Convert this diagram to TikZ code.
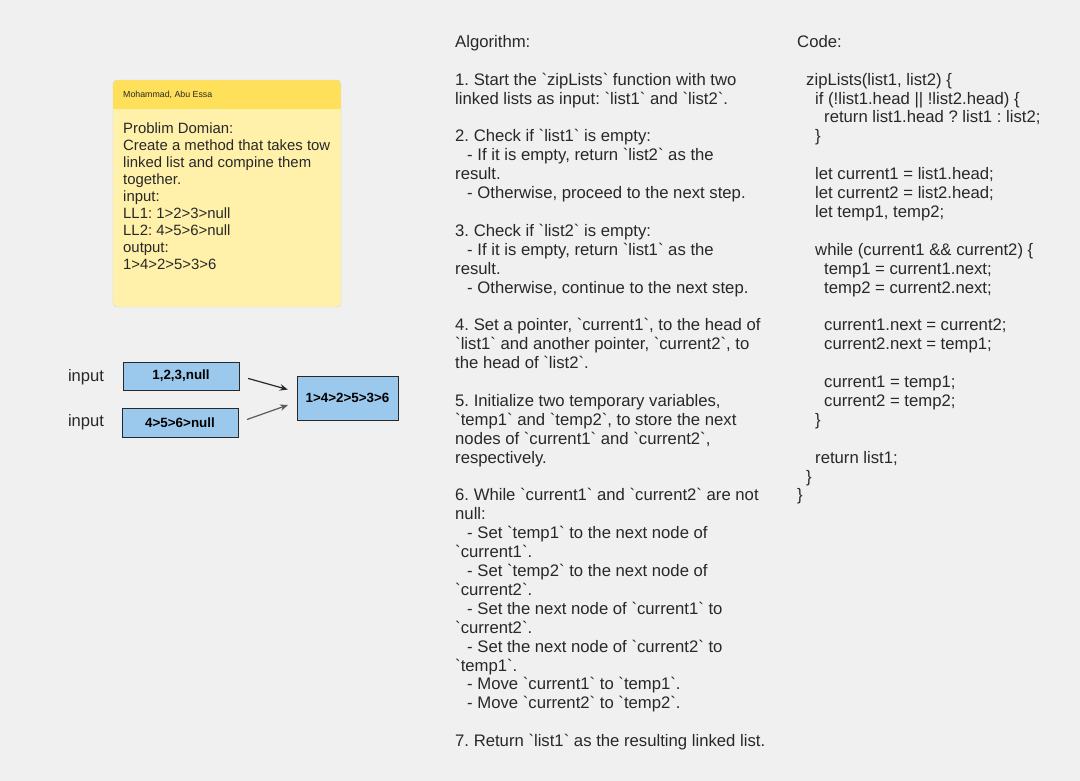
\documentclass[tikz,border=0pt]{standalone}
\usepackage{fontspec}
\setmainfont{Liberation Sans}
\usetikzlibrary{arrows.meta,positioning}

\definecolor{canvas}{RGB}{240,240,240}
\definecolor{noteHead}{RGB}{255,224,90}
\definecolor{noteBody}{RGB}{255,241,170}
\definecolor{noteLine}{RGB}{214,214,214}
\definecolor{boxBlue}{RGB}{155,201,238}
\definecolor{ink}{RGB}{40,40,40}
\newcommand{\bq}{\textasciigrave}
\frenchspacing

\tikzset{
  listbox/.style={draw=ink,fill=boxBlue,line width=1pt,inner sep=0pt,font=\fontsize{13.4}{15}\selectfont\bfseries},
  flow/.style={-{Stealth[length=8pt,width=6.5pt]},line width=1.2pt,shorten <=9pt,shorten >=9pt},
  colText/.style={anchor=north west,align=left,inner sep=0pt,text=ink,font=\fontsize{16.7}{18.9}\selectfont},
  label/.style={text=ink,font=\fontsize{16.6}{18}\selectfont},
}

\begin{document}
\begin{tikzpicture}[x=1pt,y=-1pt]
    \fill[canvas] (0,0) rectangle (1080,781);
    \useasboundingbox (0,0) rectangle (1080,781);

    % sticky note
    \begin{scope}
    \clip[rounded corners=4pt] (113,80) rectangle (341,307);
    \fill[noteBody] (113,80) rectangle (341,307);
    \fill[noteHead] (113,80) rectangle (341,109);
    \end{scope}
    \draw[noteLine,rounded corners=4pt] (113,80) rectangle (341,307);
    \node[anchor=west,inner sep=0pt,text=ink,font=\fontsize{8.8}{10}\selectfont] (author) at (123,95) {Mohammad, Abu Essa};
    \node[colText,font=\fontsize{14.9}{17}\selectfont] (problem) at (123,122.5) {Problim Domian:\\
      Create a method that takes tow\\
      linked list and compine them\\
      together.\\
      input:\\
      LL1: 1>2>3>null\\
      LL2: 4>5>6>null\\
      output:\\
      1>4>2>5>3>6};

    % lists
    \node[label] (lblA) at (86,377) {input};
    \node[label] (lblB) at (86,422) {input};
    \node[listbox,minimum width=116pt,minimum height=28pt] (listA) at (181,376) {1,2,3,null};
    \node[listbox,minimum width=116pt,minimum height=29pt] (listB) at (180,422.5) {4>5>6>null};
    \node[listbox,minimum width=101pt,minimum height=44pt] (zipped) at (347.5,398) {1>4>2>5>3>6};

    \draw[flow,ink] (listA.east) -- ([yshift=6pt]zipped.west);
    \draw[flow,black!65] (listB.east) -- ([yshift=-4pt]zipped.west);

    % algorithm
    \node[colText] (algo) at (455,35) {Algorithm:\\[18.9pt]
      1. Start the \bq zipLists\bq{} function with two\\
      linked lists as input: \bq list1\bq{} and \bq list2\bq.\\[18.9pt]
      2. Check if \bq list1\bq{} is empty:\\
      \hspace*{12pt}- If it is empty, return \bq list2\bq{} as the\\
      result.\\
      \hspace*{12pt}- Otherwise, proceed to the next step.\\[18.9pt]
      3. Check if \bq list2\bq{} is empty:\\
      \hspace*{12pt}- If it is empty, return \bq list1\bq{} as the\\
      result.\\
      \hspace*{12pt}- Otherwise, continue to the next step.\\[18.9pt]
      4. Set a pointer, \bq current1\bq, to the head of\\
      \bq list1\bq{} and another pointer, \bq current2\bq, to\\
      the head of \bq list2\bq.\\[18.9pt]
      5. Initialize two temporary variables,\\
      \bq temp1\bq{} and \bq temp2\bq, to store the next\\
      nodes of \bq current1\bq{} and \bq current2\bq,\\
      respectively.\\[18.9pt]
      6. While \bq current1\bq{} and \bq current2\bq{} are not\\
      null:\\
      \hspace*{12pt}- Set \bq temp1\bq{} to the next node of\\
      \bq current1\bq.\\
      \hspace*{12pt}- Set \bq temp2\bq{} to the next node of\\
      \bq current2\bq.\\
      \hspace*{12pt}- Set the next node of \bq current1\bq{} to\\
      \bq current2\bq.\\
      \hspace*{12pt}- Set the next node of \bq current2\bq{} to\\
      \bq temp1\bq.\\
      \hspace*{12pt}- Move \bq current1\bq{} to \bq temp1\bq.\\
      \hspace*{12pt}- Move \bq current2\bq{} to \bq temp2\bq.\\[18.9pt]
      7. Return \bq list1\bq{} as the resulting linked list.};

    % code
    \node[colText] (code) at (797,35) {Code:\\[18.9pt]
      \hspace*{9pt}zipLists(list1, list2) \{\\
      \hspace*{18pt}if (!list1.head || !list2.head) \{\\
      \hspace*{27pt}return list1.head ? list1 : list2;\\
      \hspace*{18pt}\}\\[18.9pt]
      \hspace*{18pt}let current1 = list1.head;\\
      \hspace*{18pt}let current2 = list2.head;\\
      \hspace*{18pt}let temp1, temp2;\\[18.9pt]
      \hspace*{18pt}while (current1 \&\& current2) \{\\
      \hspace*{27pt}temp1 = current1.next;\\
      \hspace*{27pt}temp2 = current2.next;\\[18.9pt]
      \hspace*{27pt}current1.next = current2;\\
      \hspace*{27pt}current2.next = temp1;\\[18.9pt]
      \hspace*{27pt}current1 = temp1;\\
      \hspace*{27pt}current2 = temp2;\\
      \hspace*{18pt}\}\\[18.9pt]
      \hspace*{18pt}return list1;\\
      \hspace*{9pt}\}\\
      \}};
\end{tikzpicture}
\end{document}
